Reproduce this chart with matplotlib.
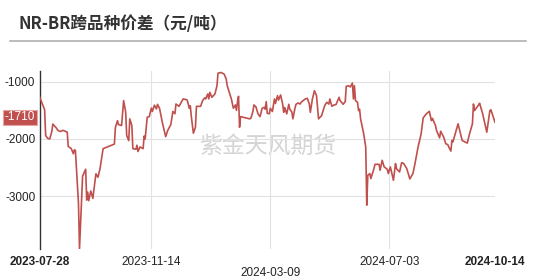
import matplotlib
matplotlib.use('Agg')
import matplotlib.pyplot as plt
import pandas as pd
from matplotlib.lines import Line2D

dates = [
    '2023-07-28', '2023-08-02', '2023-08-03', '2023-08-05', '2023-08-07', '2023-08-09',
    '2023-08-10', '2023-08-13', '2023-08-15', '2023-08-17', '2023-08-20', '2023-08-24',
    '2023-08-25', '2023-08-28', '2023-08-30', '2023-08-31', '2023-09-01', '2023-09-04',
    '2023-09-05', '2023-09-08', '2023-09-11', '2023-09-12', '2023-09-13', '2023-09-14',
    '2023-09-16', '2023-09-18', '2023-09-21', '2023-09-23', '2023-09-25', '2023-09-28',
    '2023-10-09', '2023-10-10', '2023-10-12', '2023-10-13', '2023-10-16', '2023-10-18',
    '2023-10-20', '2023-10-21', '2023-10-23', '2023-10-24', '2023-10-26', '2023-10-27',
    '2023-10-30', '2023-10-31', '2023-11-01', '2023-11-03', '2023-11-06', '2023-11-07',
    '2023-11-08', '2023-11-10', '2023-11-12', '2023-11-14', '2023-11-15', '2023-11-17',
    '2023-11-19', '2023-11-20', '2023-11-22', '2023-11-25', '2023-11-28', '2023-11-30',
    '2023-12-03', '2023-12-05', '2023-12-07', '2023-12-08', '2023-12-11', '2023-12-15',
    '2023-12-18', '2023-12-19', '2023-12-21', '2023-12-22', '2023-12-23', '2023-12-25',
    '2023-12-27', '2023-12-28', '2024-01-01', '2024-01-03', '2024-01-05', '2024-01-06',
    '2024-01-08', '2024-01-09', '2024-01-10', '2024-01-12', '2024-01-15', '2024-01-17',
    '2024-01-18', '2024-01-21', '2024-01-24', '2024-01-26', '2024-01-27', '2024-01-31',
    '2024-02-02', '2024-02-04', '2024-02-05', '2024-02-06', '2024-02-07', '2024-02-08',
    '2024-02-09', '2024-02-18', '2024-02-19', '2024-02-21', '2024-02-22', '2024-02-24',
    '2024-02-26', '2024-02-28', '2024-03-01', '2024-03-03', '2024-03-04', '2024-03-05',
    '2024-03-06', '2024-03-08', '2024-03-09', '2024-03-11', '2024-03-13', '2024-03-14',
    '2024-03-16', '2024-03-17', '2024-03-19', '2024-03-21', '2024-03-22', '2024-03-23',
    '2024-03-25', '2024-03-27', '2024-03-28', '2024-03-30', '2024-03-31', '2024-04-02',
    '2024-04-03', '2024-04-05', '2024-04-07', '2024-04-08', '2024-04-12', '2024-04-14',
    '2024-04-16', '2024-04-17', '2024-04-19', '2024-04-21', '2024-04-23', '2024-04-25',
    '2024-04-26', '2024-04-28', '2024-05-01', '2024-05-03', '2024-05-05', '2024-05-06',
    '2024-05-08', '2024-05-10', '2024-05-12', '2024-05-15', '2024-05-16', '2024-05-19',
    '2024-05-21', '2024-05-22', '2024-05-24', '2024-05-26', '2024-05-28', '2024-05-29',
    '2024-05-30', '2024-05-31', '2024-06-02', '2024-06-03', '2024-06-04', '2024-06-05',
    '2024-06-08', '2024-06-10', '2024-06-11', '2024-06-12', '2024-06-14', '2024-06-15',
    '2024-06-18', '2024-06-19', '2024-06-23', '2024-06-24', '2024-06-26', '2024-06-28',
    '2024-07-01', '2024-07-02', '2024-07-04', '2024-07-07', '2024-07-09', '2024-07-10',
    '2024-07-13', '2024-07-15', '2024-07-17', '2024-07-20', '2024-07-23', '2024-07-26',
    '2024-07-28', '2024-07-31', '2024-08-03', '2024-08-05', '2024-08-08', '2024-08-11',
    '2024-08-13', '2024-08-14', '2024-08-17', '2024-08-18', '2024-08-21', '2024-08-22',
    '2024-08-25', '2024-08-27', '2024-08-29', '2024-08-30', '2024-09-01', '2024-09-02',
    '2024-09-03', '2024-09-08', '2024-09-12', '2024-09-17', '2024-09-19', '2024-09-22',
    '2024-09-23', '2024-09-24', '2024-09-28', '2024-09-29', '2024-10-02', '2024-10-06',
    '2024-10-09', '2024-10-10', '2024-10-14',
]

values = [
    -1260, -1490, -1940, -1990, -2000, -1870,
    -1740, -1800, -1850, -1870, -1850, -1880,
    -2130, -2170, -2260, -2190, -2200, -3130,
    -3920, -2650, -2530, -3070, -2930, -3080,
    -2910, -3040, -2610, -2670, -2520, -2170,
    -2090, -1800, -1680, -1750, -1765, -1330,
    -1530, -1940, -2030, -1650, -1765, -2170,
    -2180, -2110, -2220, -2140, -2170, -1950,
    -2000, -1620, -1610, -1460, -1520, -1410,
    -1475, -1395, -1465, -1735, -1960, -1850,
    -1750, -1520, -1560, -1390, -1430, -1300,
    -1313, -1320, -1464, -1420, -1610, -1900,
    -1795, -1430, -1430, -1330, -1283, -1300,
    -1214, -1300, -1185, -1272, -1214, -1070,
    -850, -838, -867, -954, -1070, -1300,
    -1464, -1406, -1500, -1348, -1255, -1795,
    -1610, -1649, -1640, -1522, -1406, -1440,
    -1562, -1610, -1464, -1447, -1480, -1348,
    -1551, -1560, -1464, -1520, -1301, -1380,
    -1243, -1320, -1231, -1388, -1534, -1450,
    -1562, -1394, -1480, -1530, -1649, -1464,
    -1395, -1371, -1390, -1359, -1301, -1289,
    -1388, -1534, -1301, -1157, -1243, -1649,
    -1630, -1592, -1418, -1359, -1390, -1301,
    -1430, -1406, -1400, -1272, -1330, -1394,
    -1348, -1082, -1070, -1090, -1023, -1301,
    -1070, -1330, -1359, -1505, -1480, -1649,
    -1910, -2142, -3158, -2636, -2606, -2693,
    -2519, -2444, -2444, -2548, -2374, -2490,
    -2531, -2606, -2490, -2723, -2432, -2520,
    -2578, -2415, -2430, -2519, -2700, -2606,
    -2432, -2142, -1910, -1632, -1562, -1517,
    -1679, -1640, -1765, -1853, -1980, -1865,
    -1969, -2084, -2100, -2142, -2213, -2027,
    -2050, -1736, -2027, -2073, -1922, -1736,
    -1389, -1505, -1406, -1376, -1562, -1882,
    -1505, -1490, -1710,
]

y_ticks = [-1000, -2000, -3000]
x_tick_dates = ['2023-07-28', '2023-11-14', '2024-03-09', '2024-07-03', '2024-10-14']
x_tick_labels = ['2023-07-28', '2023-11-14', '\n2024-03-09', '2024-07-03', '2024-10-14']
bold_ticks = [0, 4]
last_value = -1710
title = 'NR-BR跨品种价差（元/吨）'
watermark = '紫金天风期货'

line_color = '#c0504d'

plt.rcParams['font.family'] = ['Liberation Sans', 'Noto Sans CJK SC', 'DejaVu Sans']

W, H = 535, 280
fig = plt.figure(figsize=(W / 100, H / 100), dpi=100)
ax = fig.add_axes([39.5 / W, 1 - 249 / H, (495 - 39.5) / W, (249 - 71) / H])

x = pd.to_datetime(dates)
ax.plot(x, values, color=line_color, lw=1.2, solid_joinstyle='round', zorder=3)

ax.set_xlim(pd.Timestamp(x_tick_dates[0]), pd.Timestamp(x_tick_dates[-1]))
ax.set_ylim(-3925, -812)

ax.set_yticks(y_ticks)
ax.set_yticklabels([str(v) for v in y_ticks])
ax.set_xticks(pd.to_datetime(x_tick_dates))
ax.set_xticklabels(x_tick_labels)
for i, lab in enumerate(ax.get_xticklabels()):
    lab.set_linespacing(0.95)
    if i in bold_ticks:
        lab.set_fontweight('bold')

ax.tick_params(axis='y', length=0, pad=3, labelsize=8.5, labelcolor='#222222')
ax.tick_params(axis='x', length=0, pad=5, labelsize=8.5, labelcolor='#222222')

ax.grid(True, color='#e2e2e2', lw=0.8, zorder=0)
xgl = ax.get_xgridlines()
xgl[0].set_visible(False)
xgl[-1].set_visible(False)

for s in ['top', 'right', 'bottom']:
    ax.spines[s].set_visible(False)
ax.spines['left'].set_color('#333333')
ax.spines['left'].set_linewidth(1.0)

# watermark
ax.text(0.5, 0.58, watermark, transform=ax.transAxes, ha='center', va='center',
        fontsize=16.5, color='#d4d4d4', family=['Noto Sans CJK SC'], zorder=1)

# last value label
ax.annotate(str(last_value), xy=(0, last_value), xycoords=('axes fraction', 'data'),
            xytext=(-3, 3.5), textcoords='offset points', ha='right', va='center',
            fontsize=8.5, color='white', annotation_clip=False,
            bbox=dict(boxstyle='square,pad=0.15', fc=line_color, ec='#e6a5a3', lw=0.8))

# title and separator
fig.text(18 / W, 1 - 24 / H, title, ha='left', va='center', fontsize=12,
         fontweight='bold', color='#333333', family=['Noto Sans CJK SC', 'DejaVu Sans'])
fig.add_artist(Line2D([10 / W, 526 / W], [1 - 40.7 / H, 1 - 40.7 / H],
                      transform=fig.transFigure, color='#aaaaaa', lw=1.1))

fig.savefig('out.png', dpi=100)
